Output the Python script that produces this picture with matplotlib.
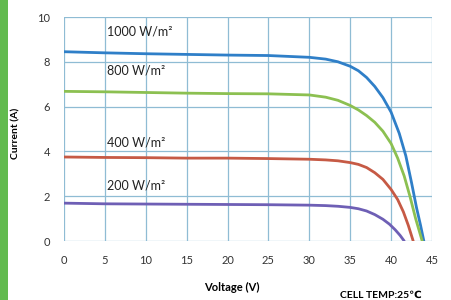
import matplotlib
matplotlib.use("Agg")
import matplotlib.pyplot as plt
from matplotlib.patches import Rectangle

# curves (voltage V, current A)
v1000 = [0, 5, 10, 15, 20, 25, 30, 32, 33.5, 35, 36, 37, 38, 39, 40, 41, 41.8, 42.5, 43.1, 43.6, 44.0]
i1000 = [8.45, 8.4, 8.36, 8.33, 8.3, 8.28, 8.2, 8.12, 8.0, 7.8, 7.6, 7.3, 6.9, 6.4, 5.75, 4.8, 3.8, 2.6, 1.5, 0.7, 0]

v800 = [0, 5, 10, 15, 20, 25, 30, 32, 33.5, 35, 36, 37, 38, 39, 40, 40.8, 41.6, 42.3, 43.0, 43.8]
i800 = [6.68, 6.66, 6.63, 6.6, 6.58, 6.57, 6.52, 6.42, 6.28, 6.05, 5.85, 5.6, 5.3, 4.9, 4.35, 3.7, 2.9, 2.0, 1.0, 0]

v400 = [0, 5, 10, 15, 20, 25, 30, 32, 33.5, 35, 36, 37, 38, 39, 40, 40.8, 41.5, 42.1, 42.7]
i400 = [3.75, 3.73, 3.72, 3.7, 3.7, 3.68, 3.65, 3.62, 3.58, 3.5, 3.42, 3.28, 3.05, 2.75, 2.3, 1.85, 1.3, 0.7, 0]

v200 = [0, 5, 10, 15, 20, 25, 30, 32, 33.5, 35, 36, 37, 38, 39, 39.8, 40.5, 41.1, 41.6]
i200 = [1.69, 1.66, 1.65, 1.64, 1.63, 1.62, 1.6, 1.58, 1.55, 1.5, 1.44, 1.34, 1.18, 0.97, 0.75, 0.5, 0.25, 0]

labels = ["1000 W/m²", "800 W/m²", "400 W/m²", "200 W/m²"]
label_pos = [(9.2, 9.35), (8.8, 7.6), (8.8, 4.4), (8.8, 2.5)]
colors = ["#2f7fc8", "#8cc051", "#c65a45", "#6e5fb5"]

xticks = [0, 5, 10, 15, 20, 25, 30, 35, 40, 45]
yticks = [0, 2, 4, 6, 8, 10]

plt.rcParams['font.family'] = ['Lato', 'DejaVu Sans']

fig = plt.figure(figsize=(4.51, 3.0), dpi=100)
fig.patch.set_facecolor("white")
fig.patches.append(Rectangle((0, 0), 8 / 451, 1, transform=fig.transFigure,
                             facecolor="#62bb4f", edgecolor="none"))

ax = fig.add_axes([64 / 451, 1 - 241 / 300, 368 / 451, 224 / 300])
for v, i, c in zip([v1000, v800, v400, v200], [i1000, i800, i400, i200], colors):
    ax.plot(v, i, color=c, lw=2, solid_capstyle="round", solid_joinstyle="round", zorder=3)

for lab, (x, y) in zip(labels, label_pos):
    ax.text(x, y, lab, fontsize=9, color="#222222", ha="center", va="center")

ax.set_xlim(0, 45)
ax.set_ylim(0, 10)
ax.set_xticks(xticks)
ax.set_yticks(yticks)
ax.grid(True, color="#8fbcd4", lw=0.9)
for s in ax.spines.values():
    s.set_visible(False)
ax.tick_params(length=0, labelsize=8, colors="#333333", pad=10)
ax.set_xlabel("Voltage (V)", fontsize=8, fontweight="bold")
ax.xaxis.set_label_coords(0.455, -41 / 224)
ax.set_ylabel("Current (A)", fontsize=7.5, fontweight="bold")
ax.yaxis.set_label_coords(-44 / 368, 0.48)

fig.text(381 / 451, 1 - 295 / 300, "CELL TEMP:25℃", fontsize=7.5, fontweight="bold",
         ha="center", va="center", family=['Lato', 'DejaVu Sans'])

fig.savefig("out.png", dpi=100)
